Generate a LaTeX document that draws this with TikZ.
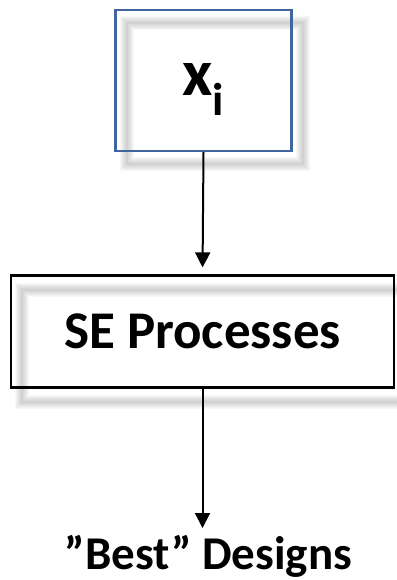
\documentclass[tikz,border=0pt]{standalone}
\usepackage{fontspec}
\setmainfont{Carlito}
\usetikzlibrary{arrows.meta}
\definecolor{boxblue}{HTML}{41659F}
\tikzset{
  shadowline/.style={draw=black, line width=#1, opacity=0.028},
  boxA/.style={draw=boxblue, line width=2.4pt, minimum width=176pt, minimum height=141pt, inner sep=0pt},
  boxB/.style={draw=black, line width=2.6pt, minimum width=383pt, minimum height=112pt, inner sep=0pt,
    font=\fontsize{53}{53}\selectfont\bfseries},
  conn/.style={line width=2pt, -{Triangle[width=15pt,length=15pt]}},
  lbl/.style={inner sep=0pt, font=\bfseries}
}
\begin{document}
\begin{tikzpicture}[x=1pt,y=-1pt]
\useasboundingbox (0,0) rectangle (396,580);
% soft shadows (offset outlines)
\foreach \w in {2,4,6,8,10,12,14}{
  \draw[shadowline=\w pt] (127,23) rectangle (303,164);
  \draw[shadowline=\w pt] (22,290) rectangle (405,402);
}
\node[boxA] (a) at (203.5,80.5) {};
\node[lbl, font=\fontsize{66}{66}\selectfont\bfseries] (xi) at (203.4,90)
  {x\raisebox{-20pt}{\fontsize{46}{46}\selectfont i}};
\node[boxB] (b) at (202.5,331.7) {\raisebox{-3pt}{SE Processes}};
\node[lbl, font=\fontsize{47}{47}\selectfont\bfseries, anchor=base] (c) at (208.5,569) {”Best” Designs};
\draw[conn, shorten >=7pt] (a.south) -- (b.north);
\draw[conn] (b.south) -- (b.south |- 0,528);
\end{tikzpicture}
\end{document}
